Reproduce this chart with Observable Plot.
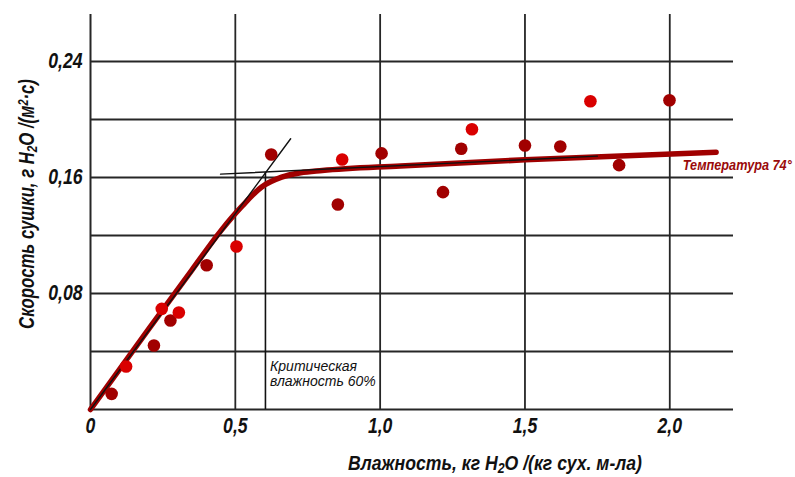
<!DOCTYPE html>
<html>
<head>
<meta charset="utf-8">
<script src="https://cdn.jsdelivr.net/npm/d3@7"></script>
<script src="https://cdn.jsdelivr.net/npm/@observablehq/plot@0.6"></script>
<style>
  html, body { margin: 0; padding: 0; background: #fff; }
  #chart svg { display: block; overflow: visible; }
</style>
</head>
<body>
<div id="chart"></div>
<script>
// ---- data ----
const xTicks = [0, 0.5, 1.0, 1.5, 2.0];
const xTickLabels = ["0", "0,5", "1,0", "1,5", "2,0"];
const xGrid = [0.5, 1.0, 1.5, 2.0];
const yGrid = [0.04, 0.08, 0.12, 0.16, 0.20, 0.24];
const yTicks = [0.08, 0.16, 0.24];
const yTickLabels = ["0,08", "0,16", "0,24"];

// measured points: moisture (kg H2O / kg dry), drying rate, colour shade
const moisture = [0.073, 0.123, 0.219, 0.246, 0.276, 0.305, 0.401, 0.504, 0.624, 0.854, 0.869, 1.005, 1.217, 1.280, 1.317, 1.500, 1.622, 1.726, 1.825, 1.999];
const rate     = [0.0108, 0.0297, 0.0441, 0.0694, 0.0614, 0.0669, 0.0995, 0.1124, 0.1759, 0.1414, 0.1724, 0.1766, 0.1499, 0.1798, 0.1933, 0.1821, 0.1814, 0.2126, 0.1685, 0.2133];
const shade    = ["dark", "bright", "dark", "bright", "dark", "bright", "dark", "bright", "dark", "dark", "bright", "dark", "dark", "dark", "bright", "dark", "dark", "bright", "dark", "dark"];

// fitted drying curve (74°)
const curveX = [0, 0.2, 0.35, 0.45, 0.52, 0.59, 0.66, 0.725, 0.80, 1.07, 1.5, 2.16];
const curveY = [0, 0.0553, 0.0962, 0.1232, 0.1395, 0.1533, 0.1602, 0.1632, 0.1648, 0.168, 0.1722, 0.1774];

// tangent construction lines
const tangentAX = [0, 0.691], tangentAY = [0, 0.1867];
const tangentBX = [0.449, 1.75], tangentBY = [0.1623, 0.1747];
const criticalX = 0.604, criticalY = 0.1634;

// annotations
const seriesLabel = "Температура 74°";
const seriesLabelPos = [2.045, 0.1683];
const criticalLabel = "Критическая\nвлажность 60%";
const criticalLabelPos = [0.62, 0.0335];

const shadeColor = {dark: "#a10000", bright: "#d90000"};
const font = "'Liberation Sans', Arial, sans-serif";
const narrow = 0.82;

const pts = moisture.map((m, i) => ({x: m, y: rate[i], c: shadeColor[shade[i]]}));
const curve = curveX.map((x, i) => ({x, y: curveY[i]}));
const tA = tangentAX.map((x, i) => ({x, y: tangentAY[i]}));
const tB = tangentBX.map((x, i) => ({x, y: tangentBY[i]}));

const grid = "#262626";

const plot = Plot.plot({
  width: 795,
  height: 477,
  marginLeft: 90,
  marginRight: 62,
  marginTop: 14,
  marginBottom: 68,
  style: {fontFamily: font, background: "#fff"},
  x: {domain: [0, 2.22], axis: null},
  y: {domain: [0, 0.2724], axis: null},
  marks: [
    Plot.ruleY(yGrid, {stroke: grid, strokeWidth: 1.8}),
    Plot.ruleX(xGrid, {stroke: grid, strokeWidth: 1.8}),
    Plot.ruleX([0], {stroke: grid, strokeWidth: 2}),
    Plot.ruleY([0], {stroke: grid, strokeWidth: 2.2}),
    Plot.ruleX([criticalX], {y1: 0, y2: criticalY, stroke: "#111", strokeWidth: 1.6}),
    Plot.line(curve, {x: "x", y: "y", stroke: "#a00000", strokeWidth: 5.5, curve: "monotone-x", strokeLinecap: "round"}),
    Plot.line(tA, {x: "x", y: "y", stroke: "#111", strokeWidth: 1.4}),
    Plot.line(tB, {x: "x", y: "y", stroke: "#111", strokeWidth: 1.4}),
    Plot.dot(pts, {x: "x", y: "y", r: 6.3, fill: "c", stroke: "none"}),
    Plot.text(xTicks, {x: d => d, y: 0, text: (d, i) => xTickLabels[i], dy: 17, fontSize: 21.5, fontWeight: "bold", fontStyle: "italic", fill: "#111", className: "narrow"}),
    Plot.text(yTicks, {x: 0, y: d => d, text: (d, i) => yTickLabels[i], dx: -8, textAnchor: "end", fontSize: 21.5, fontWeight: "bold", fontStyle: "italic", fill: "#111", className: "narrow"}),
    Plot.text([seriesLabel], {x: seriesLabelPos[0], y: seriesLabelPos[1], text: d => d, textAnchor: "start", fontSize: 15.5, fontWeight: "bold", fontStyle: "italic", fill: "#9a0a0a", className: "narrow"}),
    Plot.text([criticalLabel], {x: criticalLabelPos[0], y: criticalLabelPos[1], text: d => d, textAnchor: "start", lineAnchor: "top", lineHeight: 1.05, fontSize: 14, fontStyle: "italic", fill: "#111"})
  ]
});

document.getElementById("chart").appendChild(plot);

const svg = d3.select(plot);
// condense the bold labels (narrow face look)
svg.selectAll("g.narrow text").each(function() {
  const el = d3.select(this);
  const tr = el.attr("transform");
  if (tr) {
    el.attr("transform", tr + ` scale(${narrow},1)`);
  } else {
    const x = +el.attr("x") || 0, y = +el.attr("y") || 0;
    el.attr("transform", `translate(${x},${y}) scale(${narrow},1) translate(${-x},${-y})`);
  }
});

// axis titles with sub/superscripts, condensed to the reference width
function addTitle(parts, pos, rotate, size, len) {
  const t = svg.append("text")
    .attr("text-anchor", "middle")
    .attr("font-family", font)
    .attr("font-size", size)
    .attr("font-weight", "bold")
    .attr("font-style", "italic")
    .attr("fill", "#111");
  parts.forEach(p => {
    const s = t.append("tspan").text(p.t);
    if (p.sub) s.attr("baseline-shift", "-25%").attr("font-size", size * 0.7);
    if (p.sup) s.attr("baseline-shift", "38%").attr("font-size", size * 0.65);
  });
  const w = t.node().getComputedTextLength() || len;
  const sx = len / w;
  t.attr("transform", `translate(${pos[0]},${pos[1]})${rotate ? " rotate(-90)" : ""} scale(${sx},1)`);
}
addTitle([
  {t: "Влажность, кг H"}, {t: "2", sub: true}, {t: "O /(кг сух. м-ла)"}
], [495, 470], false, 20, 294);
addTitle([
  {t: "Скорость сушки, г H"}, {t: "2", sub: true}, {t: "O /(м"}, {t: "2", sup: true}, {t: "·с)"}
], [34, 204], true, 21.5, 250);
</script>
</body>
</html>
